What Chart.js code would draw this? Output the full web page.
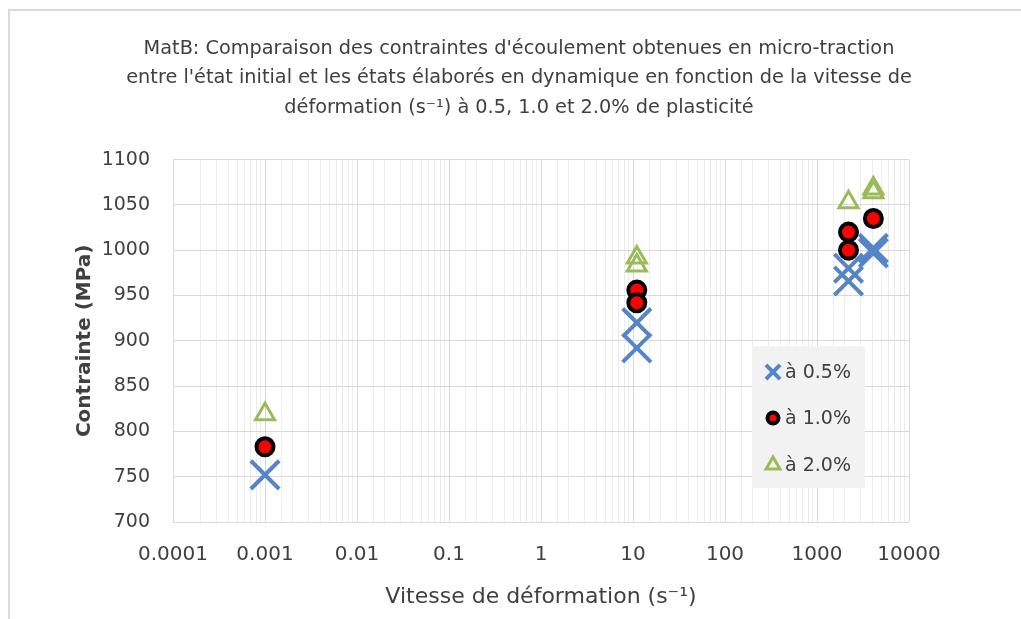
<!DOCTYPE html>
<html lang="fr">
<head>
<meta charset="UTF-8">
<title>MatB - contraintes d'écoulement</title>
<script src="https://cdn.jsdelivr.net/npm/chart.js"></script>
<style>
    html, body { margin: 0; padding: 0; background: #fff; }
    .chart-container { position: relative; width: 1021px; height: 619px; }
</style>
</head>
<body>
<div class="chart-container">
    <canvas id="chart"></canvas>
</div>
<script>
    // Vitesse de déformation (s-1) et contrainte (MPa) pour chaque niveau de plasticité
    const rate05 = [0.001, 11, 11, 2200, 2200, 4100, 4100];
    const stress05 = [752, 920, 892, 980, 966, 1002, 997];

    const rate10 = [0.001, 11, 11, 2200, 2200, 4100];
    const stress10 = [783, 956, 942, 1020, 1000, 1035];

    const rate20 = [0.001, 11, 11, 2200, 4100, 4100];
    const stress20 = [819, 992, 983, 1053, 1068, 1064];

    const seriesNames = ['à 0.5%', 'à 1.0%', 'à 2.0%'];
    const xTickLabels = ['0.0001', '0.001', '0.01', '0.1', '1', '10', '100', '1000', '10000'];
    const titleLines = [
        "MatB: Comparaison des contraintes d'écoulement obtenues en micro-traction",
        "entre l'état initial et les états élaborés en dynamique en fonction de la vitesse de",
        "déformation (s⁻¹) à 0.5, 1.0 et 2.0% de plasticité"
    ];

    const FONT = "'DejaVu Sans', 'Open Sans', sans-serif";
    const TEXT = '#404040';

    function toPoints(xs, ys) {
        return xs.map((x, i) => ({ x: x, y: ys[i] }));
    }

    function isDecade(v) {
        const l = Math.log10(v);
        return Math.abs(l - Math.round(l)) < 1e-6;
    }

    // cadre gris autour du graphique
    const framePlugin = {
        id: 'frame',
        beforeDraw(chart) {
            const ctx = chart.ctx;
            ctx.save();
            ctx.fillStyle = '#fff';
            ctx.fillRect(0, 0, chart.width, chart.height);
            ctx.strokeStyle = '#d9d9d9';
            ctx.lineWidth = 2;
            ctx.strokeRect(9, 10, chart.width + 20, chart.height + 20);
            ctx.restore();
        }
    };

    // légende dans la zone de tracé, comme dans Excel
    const insideLegend = {
        id: 'insideLegend',
        afterDraw(chart) {
            const ctx = chart.ctx;
            const box = { x: 752, y: 346, w: 113, h: 142 };
            ctx.save();
            ctx.fillStyle = '#f2f2f2';
            ctx.fillRect(box.x, box.y, box.w, box.h);
            const rows = [372, 418, 465];
            const legendSizes = [10, 5.5, 8];
            chart.data.datasets.forEach((ds, i) => {
                ctx.fillStyle = ds.backgroundColor;
                ctx.strokeStyle = ds.borderColor;
                ctx.lineWidth = ds.borderWidth;
                Chart.helpers.drawPoint(ctx, {
                    pointStyle: ds.pointStyle,
                    radius: legendSizes[i],
                    rotation: 0,
                    borderWidth: ds.borderWidth
                }, 773, rows[i]);
                ctx.fillStyle = TEXT;
                ctx.font = '19px ' + FONT;
                ctx.textBaseline = 'middle';
                ctx.textAlign = 'left';
                ctx.fillText(ds.label, 785, rows[i] + 1);
            });
            ctx.restore();
        }
    };

    new Chart(document.getElementById('chart'), {
        type: 'scatter',
        data: {
            datasets: [{
                label: seriesNames[0],
                data: toPoints(rate05, stress05),
                pointStyle: 'crossRot',
                pointRadius: 20,
                pointHoverRadius: 20,
                borderWidth: 4,
                borderColor: '#5585c8',
                backgroundColor: '#5585c8'
            }, {
                label: seriesNames[1],
                data: toPoints(rate10, stress10),
                pointStyle: 'circle',
                pointRadius: 8.5,
                pointHoverRadius: 8.5,
                borderWidth: 4,
                borderColor: '#000',
                backgroundColor: '#ff0000'
            }, {
                label: seriesNames[2],
                data: toPoints(rate20, stress20),
                pointStyle: 'triangle',
                pointRadius: 11,
                pointHoverRadius: 11,
                borderWidth: 3,
                borderColor: '#9bbb59',
                backgroundColor: 'rgba(255,255,255,0)'
            }]
        },
        options: {
            responsive: true,
            maintainAspectRatio: false,
            animation: false,
            layout: {
                padding: { left: 69, right: 52, top: 0, bottom: 5 }
            },
            plugins: {
                legend: { display: false },
                tooltip: { enabled: false },
                title: {
                    display: true,
                    text: titleLines,
                    color: TEXT,
                    font: { family: FONT, size: 19.3, weight: 'normal', lineHeight: 1.53 },
                    padding: { top: 34, bottom: 37 }
                }
            },
            scales: {
                x: {
                    type: 'logarithmic',
                    min: 0.0001,
                    max: 10000,
                    afterFit(scale) { scale.height = 92; },
                    border: { display: false },
                    grid: {
                        drawTicks: false,
                        color: ctx => isDecade(ctx.tick.value) ? '#d9d9d9' : '#ececec'
                    },
                    ticks: {
                        autoSkip: false,
                        maxRotation: 0,
                        padding: 21,
                        color: TEXT,
                        font: { family: FONT, size: 20 },
                        callback: v => isDecade(v) ? xTickLabels[Math.round(Math.log10(v)) + 4] : ''
                    },
                    title: {
                        display: true,
                        text: 'Vitesse de déformation (s⁻¹)',
                        color: TEXT,
                        font: { family: FONT, size: 22 }
                    }
                },
                y: {
                    min: 700,
                    max: 1100,
                    afterFit(scale) { scale.width = 104; },
                    border: { display: false },
                    grid: { drawTicks: false, color: '#d9d9d9' },
                    ticks: {
                        stepSize: 50,
                        padding: 23,
                        color: TEXT,
                        font: { family: FONT, size: 19 },
                        callback: v => String(v)
                    },
                    title: {
                        display: true,
                        text: 'Contrainte (MPa)',
                        color: TEXT,
                        font: { family: FONT, size: 20, weight: 'bold' }
                    }
                },
                // axe vide à droite : garde la zone de tracé à sa place
                yRight: {
                    position: 'right',
                    afterFit(scale) { scale.width = 60; },
                    border: { display: false },
                    grid: { display: false },
                    ticks: { display: false }
                }
            }
        },
        plugins: [framePlugin, insideLegend]
    });
</script>
</body>
</html>
